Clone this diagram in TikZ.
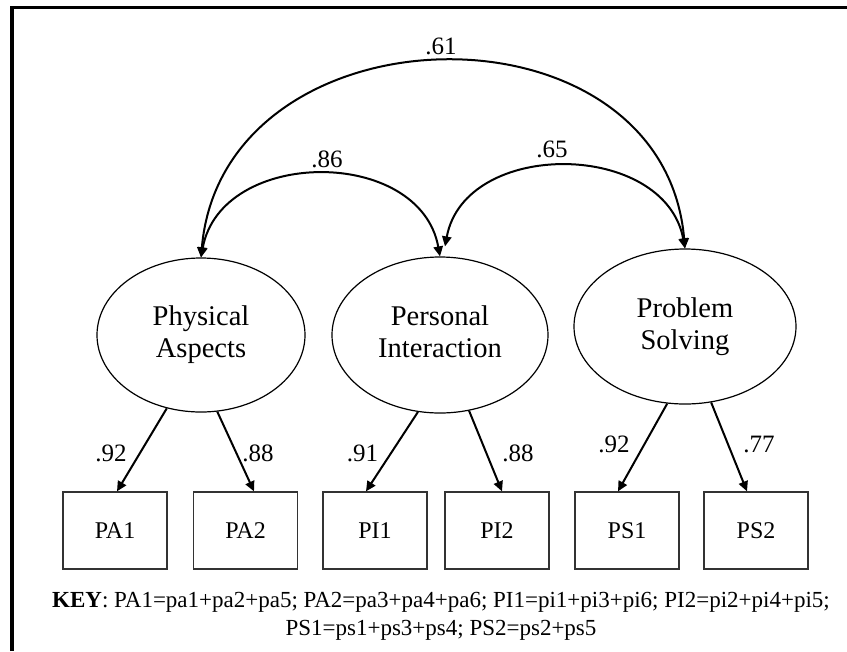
\documentclass[tikz,border=0pt]{standalone}
\usepackage{fontspec}
\setmainfont{Liberation Serif}
\usetikzlibrary{shapes.geometric,arrows.meta}
\begin{document}
\begin{tikzpicture}[x=0.75pt,y=-0.75pt,
  tip/.style={Triangle[length=7.5pt,width=7pt]},
  latent/.style={draw=black, line width=0.9pt, ellipse, inner sep=0pt, align=center,
    font=\fontsize{21.4pt}{24pt}\selectfont},
  observed/.style={draw=black!80, line width=1pt, rectangle, minimum width=78pt,
    minimum height=57.75pt, inner sep=0pt, font=\fontsize{18pt}{21pt}\selectfont},
  load/.style={line width=1.5pt, -{Triangle[length=7.5pt,width=7pt]}},
  cov/.style={line width=1.5pt, {Triangle[length=7.5pt,width=7pt]}-{Triangle[length=7.5pt,width=7pt]}},
  coef/.style={inner sep=0pt, font=\fontsize{18.75pt}{21pt}\selectfont},
  keytext/.style={inner sep=0pt, anchor=base, font=\fontsize{17.25pt}{21pt}\selectfont}]

\useasboundingbox (0,0) rectangle (847,651);

% frame (left and top rules)
\draw[line width=3pt] (12,651) -- (12,5.5);
\draw[line width=2.25pt] (10.5,7.5) -- (847,7.5);

% latent factors
\node[latent, minimum width=156pt, minimum height=115.5pt] (pa) at (201,335) {Physical\\Aspects};
\node[latent, minimum width=162pt, minimum height=117pt] (pi) at (440,335) {Personal\\Interaction\vphantom{p}};
\node[latent, minimum width=166.5pt, minimum height=116.25pt] (ps) at (685,326.5) {Problem\\Solving};

% indicators
\node[observed] (pa1) at (115,530.5) {PA1};
\node[observed] (pa2) at (245.5,530.5) {PA2};
\node[observed] (pi1) at (375,530.5) {PI1};
\node[observed] (pi2) at (497,530.5) {PI2};
\node[observed] (ps1) at (627,530.5) {PS1};
\node[observed] (ps2) at (756,530.5) {PS2};

% loadings
\draw[load] (pa.245) -- ([shift={(2,0)}]pa1.north);
\draw[load] (pa.282) -- ([shift={(8.5,0)}]pa2.north);
\draw[load] (pi.254) -- ([shift={(-9,0)}]pi1.north);
\draw[load] (pi.291) -- ([shift={(5,0)}]pi2.north);
\draw[load] (ps.257.6) -- ([shift={(-9,0)}]ps1.north);
\draw[load] (ps.289) -- ([shift={(-9,0)}]ps2.north);

\node[coef] (c1) at (111,453.5) {.92};
\node[coef] (c2) at (258,453.5) {.88};
\node[coef] (c3) at (362.5,453.5) {.91};
\node[coef] (c4) at (518,453.5) {.88};
\node[coef] (c5) at (614,444.5) {.92};
\node[coef] (c6) at (759,444.5) {.77};

% factor correlations
\coordinate (piR) at ([shift={(5,-10)}]pi.north);
\draw[cov] (pa.north) .. controls +(22,-255) and +(-22,-255) .. (ps.north);
\draw[cov] (pa.north) .. controls +(20,-110) and +(-20,-110) .. (pi.north);
\draw[cov] (piR) .. controls +(20,-108) and +(-20,-108) .. (ps.north);

\node[coef] (r61) at (441,46) {.61};
\node[coef] (r86) at (327,159.5) {.86};
\node[coef] (r65) at (552,149.5) {.65};

% key
\node[keytext] (key1) at (441,607) {\textbf{KEY}: PA1=pa1+pa2+pa5; PA2=pa3+pa4+pa6; PI1=pi1+pi3+pi6; PI2=pi2+pi4+pi5;};
\node[keytext] (key2) at (441,635) {PS1=ps1+ps3+ps4; PS2=ps2+ps5};
\end{tikzpicture}
\end{document}
